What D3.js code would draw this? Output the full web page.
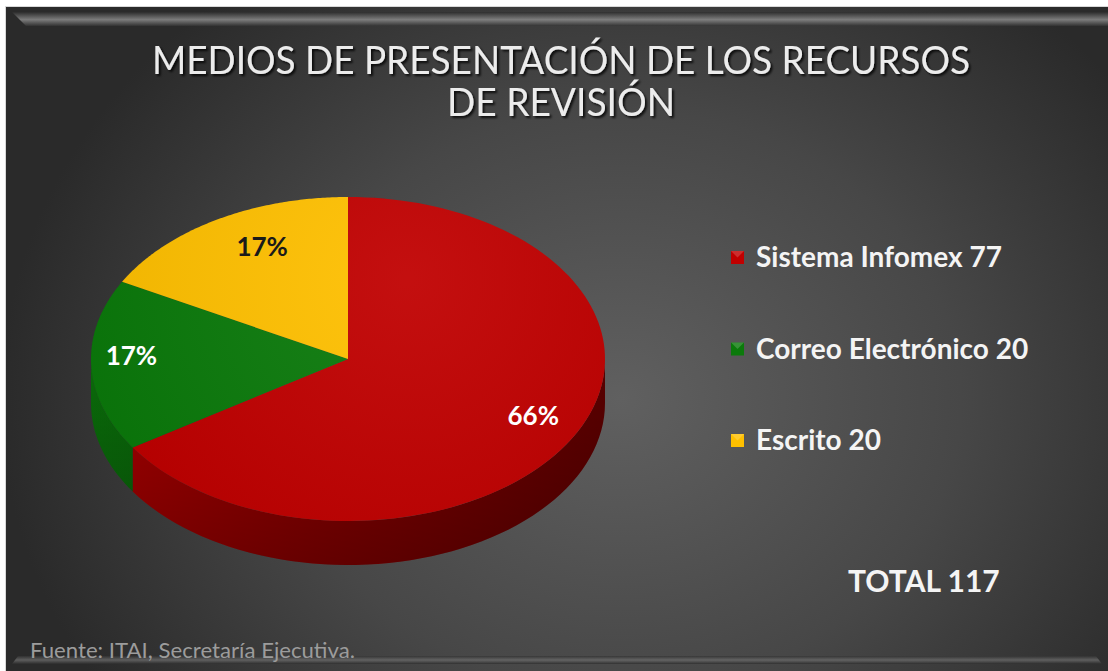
<!DOCTYPE html>
<html>
<head>
<meta charset="utf-8">
<script src="https://cdn.jsdelivr.net/npm/d3@7/dist/d3.min.js"></script>
<style>
  html, body { margin: 0; padding: 0; background: #ffffff; }
  svg { display: block; }
</style>
</head>
<body>
<svg id="chart" width="1108" height="671"></svg>
<script>
// Data
const categories = ["Sistema Infomex", "Correo Electrónico", "Escrito"];
const counts = [77, 20, 20];
const sliceColors = ["#c00000", "#0b7a0b", "#ffc000"];
const sideColors = [["#a80000", "#5a0000"], ["#0a6a0a", "#054005"], ["#d9a000", "#9a7000"]];
const titleLines = ["MEDIOS DE PRESENTACIÓN DE LOS RECURSOS", "DE REVISIÓN"];
const totalLabel = "TOTAL " + d3.sum(counts);
const sourceNote = "Fuente: ITAI, Secretaría Ejecutiva.";

const W = 1108, H = 671;
const svg = d3.select("#chart");
const defs = svg.append("defs");

// Panel background
const bg = defs.append("radialGradient").attr("id", "bgGrad")
  .attr("gradientUnits", "userSpaceOnUse")
  .attr("cx", 620).attr("cy", 400).attr("r", 620)
  .attr("gradientTransform", "translate(620,400) scale(1,0.85) translate(-620,-400)");
bg.append("stop").attr("offset", "0").attr("stop-color", "#606060");
bg.append("stop").attr("offset", "0.55").attr("stop-color", "#474747");
bg.append("stop").attr("offset", "1").attr("stop-color", "#2a2a2a");

svg.append("rect").attr("x", 5).attr("y", 6).attr("width", W - 5).attr("height", H - 6)
  .attr("fill", "#d8d8d8");
svg.append("rect").attr("x", 6).attr("y", 7).attr("width", W - 6).attr("height", H - 7)
  .attr("fill", "url(#bgGrad)");

// Bevel highlights
const bevelTop = defs.append("linearGradient").attr("id", "bevelTop")
  .attr("x1", 0).attr("y1", 0).attr("x2", 0).attr("y2", 1);
bevelTop.append("stop").attr("offset", "0").attr("stop-color", "#2c2c2c");
bevelTop.append("stop").attr("offset", "0.55").attr("stop-color", "#8a8a8a");
bevelTop.append("stop").attr("offset", "1").attr("stop-color", "#333333");
svg.append("path")
  .attr("d", `M12,12 L${W},12 L${W},26 L26,26 Z`)
  .attr("fill", "url(#bevelTop)").attr("opacity", 0.85);
const bevelBot = defs.append("linearGradient").attr("id", "bevelBot")
  .attr("x1", 0).attr("y1", 0).attr("x2", 0).attr("y2", 1);
bevelBot.append("stop").attr("offset", "0").attr("stop-color", "#333333");
bevelBot.append("stop").attr("offset", "0.5").attr("stop-color", "#6a6a6a");
bevelBot.append("stop").attr("offset", "1").attr("stop-color", "#2c2c2c");
svg.append("path")
  .attr("d", `M18,656 L${W - 12},656 L${W - 6},664 L12,664 Z`)
  .attr("fill", "url(#bevelBot)").attr("opacity", 0.8);

// Text shadow
const shadow = defs.append("filter").attr("id", "txtShadow")
  .attr("x", "-5%").attr("y", "-20%").attr("width", "110%").attr("height", "160%");
shadow.append("feDropShadow").attr("dx", 2).attr("dy", 2).attr("stdDeviation", 1.2)
  .attr("flood-color", "#000").attr("flood-opacity", 0.8);

// Title
const titleG = svg.append("g").attr("filter", "url(#txtShadow)");
const titleWidths = [818, 228];
titleG.selectAll("text").data(titleLines).join("text")
  .attr("x", 561).attr("y", (d, i) => 74 + i * 42)
  .attr("text-anchor", "middle")
  .attr("font-family", "Lato, 'Open Sans', sans-serif")
  .attr("font-size", 38)
  .attr("fill", "#ececec")
  .attr("textLength", (d, i) => titleWidths[i])
  .attr("lengthAdjust", "spacingAndGlyphs")
  .text(d => d);

// 3D pie geometry
const cx = 348, cy = 359, rx = 257, ry = 162, depth = 44;
const pie = d3.pie().sort(null).startAngle(0).endAngle(2 * Math.PI);
const arcs = pie(counts);
const total = d3.sum(counts);

const pt = (a, r = 1, dy = 0) => [cx + r * rx * Math.sin(a), cy - r * ry * Math.cos(a) + dy];

// Side walls (front half only: angles between PI/2 and 3PI/2)
const pieG = svg.append("g");
arcs.forEach((d, i) => {
  const a0 = Math.max(d.startAngle, Math.PI / 2);
  const a1 = Math.min(d.endAngle, 3 * Math.PI / 2);
  if (a1 <= a0) return;
  const g = defs.append("linearGradient").attr("id", "side" + i)
    .attr("gradientUnits", "userSpaceOnUse")
    .attr("x1", cx - rx).attr("y1", 0).attr("x2", cx + rx).attr("y2", 0);
  g.append("stop").attr("offset", "0").attr("stop-color", sideColors[i][0]);
  g.append("stop").attr("offset", "0.45").attr("stop-color", d3.interpolateRgb(sideColors[i][0], sideColors[i][1])(0.45));
  g.append("stop").attr("offset", "1").attr("stop-color", sideColors[i][1]);
  const steps = d3.range(0, 61).map(k => a0 + (a1 - a0) * k / 60);
  const top = steps.map(a => pt(a));
  const bot = steps.slice().reverse().map(a => pt(a, 1, depth));
  pieG.append("path")
    .attr("d", d3.line()(top.concat(bot)) + "Z")
    .attr("fill", `url(#side${i})`);
});

// Subtle vertical shading on side (bottom darker)
const sideShade = defs.append("linearGradient").attr("id", "sideShade")
  .attr("x1", 0).attr("y1", 0).attr("x2", 0).attr("y2", 1);
sideShade.append("stop").attr("offset", "0").attr("stop-color", "#000").attr("stop-opacity", 0);
sideShade.append("stop").attr("offset", "1").attr("stop-color", "#000").attr("stop-opacity", 0.25);
{
  const steps = d3.range(0, 121).map(k => Math.PI / 2 + Math.PI * k / 120);
  const top = steps.map(a => pt(a));
  const bot = steps.slice().reverse().map(a => pt(a, 1, depth));
  pieG.append("path").attr("d", d3.line()(top.concat(bot)) + "Z")
    .attr("fill", "url(#sideShade)");
}

// Top faces
const topGrad = defs.append("radialGradient").attr("id", "topLight")
  .attr("gradientUnits", "userSpaceOnUse")
  .attr("cx", cx + 60).attr("cy", cy - 80).attr("r", 330);
topGrad.append("stop").attr("offset", "0").attr("stop-color", "#fff").attr("stop-opacity", 0.06);
topGrad.append("stop").attr("offset", "1").attr("stop-color", "#000").attr("stop-opacity", 0.06);

arcs.forEach((d, i) => {
  const steps = d3.range(0, 121).map(k => d.startAngle + (d.endAngle - d.startAngle) * k / 120);
  const pts = [[cx, cy]].concat(steps.map(a => pt(a)));
  pieG.append("path")
    .attr("d", d3.line()(pts) + "Z")
    .attr("fill", sliceColors[i]);
});
{
  const steps = d3.range(0, 241).map(k => 2 * Math.PI * k / 240);
  pieG.append("path").attr("d", d3.line()(steps.map(a => pt(a))) + "Z")
    .attr("fill", "url(#topLight)");
}

// Percentage labels
const labelRadius = 0.82;
const labelNudge = [[0, -6], [-6, -8], [22, 2]];
const labelColors = ["#ffffff", "#ffffff", "#1a1a1a"];
const pct = d3.format(".0%");
pieG.selectAll("text.pct").data(arcs).join("text")
  .attr("class", "pct")
  .attr("x", (d, i) => pt((d.startAngle + d.endAngle) / 2, labelRadius)[0] + labelNudge[i][0])
  .attr("y", (d, i) => pt((d.startAngle + d.endAngle) / 2, labelRadius)[1] + labelNudge[i][1])
  .attr("dy", "0.35em")
  .attr("text-anchor", "middle")
  .attr("font-family", "Lato, 'Open Sans', sans-serif")
  .attr("font-weight", "bold")
  .attr("font-size", 26)
  .attr("fill", (d, i) => labelColors[i])
  .text(d => pct(d.value / total));

// Legend
const legend = svg.append("g");
const legY = d3.scalePoint().domain(categories).range([257, 440]);
const items = legend.selectAll("g").data(categories).join("g")
  .attr("transform", d => `translate(731,${legY(d)})`);
items.append("rect")
  .attr("x", 0).attr("y", -6).attr("width", 13).attr("height", 13)
  .attr("fill", (d, i) => sliceColors[i]);
items.append("path")
  .attr("d", "M0,-6 L6.5,0.5 L13,-6 Z")
  .attr("fill", "#fff").attr("opacity", 0.18);
items.append("text")
  .attr("x", 25).attr("y", 0).attr("dy", "0.36em")
  .attr("font-family", "Lato, 'Open Sans', sans-serif")
  .attr("font-weight", "bold")
  .attr("font-size", 28)
  .attr("fill", "#f4f4f4")
  .text((d, i) => `${d} ${counts[i]}`);

// Total
svg.append("text")
  .attr("x", 848).attr("y", 592)
  .attr("font-family", "Lato, 'Open Sans', sans-serif")
  .attr("font-weight", "bold")
  .attr("font-size", 30)
  .attr("fill", "#f4f4f4")
  .text(totalLabel);

// Source note
svg.append("text")
  .attr("x", 30).attr("y", 658)
  .attr("font-family", "Lato, 'Open Sans', sans-serif")
  .attr("font-size", 22)
  .attr("fill", "#9c9c9c")
  .attr("textLength", 325)
  .attr("lengthAdjust", "spacingAndGlyphs")
  .text(sourceNote);
</script>
</body>
</html>
